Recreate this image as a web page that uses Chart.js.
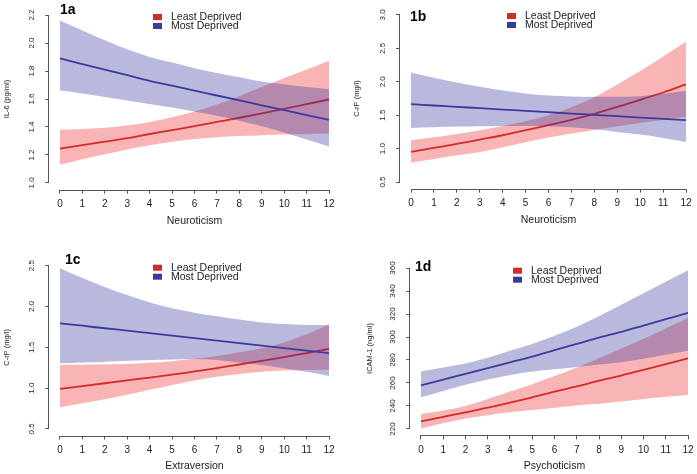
<!DOCTYPE html>
<html>
<head>
<meta charset="utf-8">
<script src="https://cdn.jsdelivr.net/npm/chart.js@4.4.1/dist/chart.umd.min.js"></script>
<style>
  html, body { margin: 0; padding: 0; background: #fff; overflow: hidden; }
  body { width: 697px; height: 474px; position: relative; }
  .panel { position: absolute; }
</style>
</head>
<body>
<div class="panel" style="left:0;top:0;width:349px;height:237px"><canvas id="p1a"></canvas></div>
<div class="panel" style="left:350px;top:0;width:347px;height:237px"><canvas id="p1b"></canvas></div>
<div class="panel" style="left:0;top:237px;width:349px;height:237px"><canvas id="p1c"></canvas></div>
<div class="panel" style="left:350px;top:237px;width:349px;height:237px"><canvas id="p1d"></canvas></div>
<script>
const xVals = [0, 1, 2, 3, 4, 5, 6, 7, 8, 9, 10, 11, 12];
const groupNames = ['Least Deprived', 'Most Deprived'];

// 1a  IL-6 by neuroticism
const il6Ticks = [1.0, 1.2, 1.4, 1.6, 1.8, 2.0, 2.2];
const il6LeastFit = [1.245, 1.27, 1.295, 1.32, 1.35, 1.378, 1.406, 1.436, 1.466, 1.498, 1.53, 1.563, 1.597];
const il6LeastLo  = [1.13, 1.17, 1.205, 1.24, 1.27, 1.295, 1.315, 1.327, 1.335, 1.341, 1.346, 1.35, 1.353];
const il6LeastHi  = [1.38, 1.385, 1.395, 1.41, 1.435, 1.47, 1.51, 1.56, 1.62, 1.685, 1.75, 1.81, 1.873];
const il6MostFit  = [1.89, 1.85, 1.81, 1.77, 1.73, 1.695, 1.66, 1.625, 1.59, 1.555, 1.52, 1.485, 1.45];
const il6MostLo   = [1.66, 1.64, 1.615, 1.59, 1.565, 1.54, 1.51, 1.48, 1.445, 1.405, 1.36, 1.31, 1.26];
const il6MostHi   = [2.16, 2.09, 2.02, 1.955, 1.9, 1.86, 1.82, 1.785, 1.755, 1.725, 1.705, 1.685, 1.67];

// 1b  CRP by neuroticism
const crpNTicks = [0.5, 1.0, 1.5, 2.0, 2.5, 3.0];
const crpNLeastFit = [0.95, 1.01, 1.07, 1.135, 1.2, 1.275, 1.35, 1.43, 1.52, 1.625, 1.73, 1.84, 1.96];
const crpNLeastLo  = [0.79, 0.845, 0.9, 0.95, 1.02, 1.095, 1.165, 1.225, 1.28, 1.335, 1.385, 1.43, 1.475];
const crpNLeastHi  = [1.125, 1.17, 1.22, 1.275, 1.34, 1.41, 1.5, 1.62, 1.77, 1.96, 2.16, 2.38, 2.6];
const crpNMostFit  = [1.665, 1.645, 1.625, 1.605, 1.585, 1.565, 1.545, 1.525, 1.505, 1.485, 1.465, 1.445, 1.425];
const crpNMostLo   = [1.31, 1.32, 1.33, 1.335, 1.34, 1.34, 1.335, 1.32, 1.29, 1.25, 1.21, 1.16, 1.1];
const crpNMostHi   = [2.14, 2.06, 1.99, 1.925, 1.87, 1.825, 1.795, 1.78, 1.775, 1.775, 1.785, 1.82, 1.865];

// 1c  CRP by extraversion
const crpETicks = [0.5, 1.0, 1.5, 2.0, 2.5];
const crpELeastFit = [0.99, 1.025, 1.06, 1.095, 1.13, 1.165, 1.205, 1.245, 1.29, 1.335, 1.38, 1.43, 1.48];
const crpELeastLo  = [0.765, 0.815, 0.865, 0.92, 0.98, 1.04, 1.095, 1.14, 1.175, 1.2, 1.215, 1.222, 1.225];
const crpELeastHi  = [1.285, 1.288, 1.29, 1.295, 1.31, 1.33, 1.36, 1.395, 1.44, 1.49, 1.56, 1.66, 1.78];
const crpEMostFit  = [1.795, 1.765, 1.734, 1.704, 1.673, 1.643, 1.612, 1.582, 1.551, 1.521, 1.49, 1.46, 1.43];
const crpEMostLo   = [1.305, 1.315, 1.325, 1.335, 1.345, 1.352, 1.358, 1.345, 1.315, 1.285, 1.245, 1.2, 1.15];
const crpEMostHi   = [2.47, 2.35, 2.24, 2.14, 2.05, 1.98, 1.925, 1.88, 1.84, 1.805, 1.785, 1.775, 1.775];

// 1d  ICAM-1 by psychoticism
const icamTicks = [220, 240, 260, 280, 300, 320, 340, 360];
const icamLeastFit = [226.5, 230.5, 234.5, 238.5, 243, 247.5, 252.5, 257, 262, 266.5, 271.5, 276.5, 281.5];
const icamLeastLo  = [220.5, 225, 229, 232, 234.5, 236.5, 238.5, 240.5, 242, 244, 246, 248, 249.6];
const icamLeastHi  = [233, 236, 240, 246, 252.5, 259, 266, 273.5, 281.5, 290, 298.5, 307.5, 316.5];
const icamMostFit  = [258, 263, 268, 273, 278, 283, 288.5, 294, 299.5, 304.5, 310, 315.5, 321];
const icamMostLo   = [247.5, 253, 258.5, 263, 267, 270, 272, 274, 276, 278, 281, 284.5, 288];
const icamMostHi   = [270, 273.5, 277, 282, 288, 294, 301, 309, 318, 328, 338, 348, 358];

const redLine = '#d42a2a';
const blueLine = '#3b3b9e';
const redBand = 'rgba(235,25,25,0.32)';
const blueBand = 'rgba(55,52,158,0.35)';
const inkColor = '#222';
const axisColor = '#555';
const FONT = 'Liberation Sans, Arial, Helvetica, sans-serif';

function pts(ys) {
  return xVals.map((x, i) => ({ x: x, y: ys[i] }));
}

function buildDatasets(lFit, lLo, lHi, mFit, mLo, mHi) {
  const band = { borderWidth: 0, borderColor: 'rgba(0,0,0,0)', pointRadius: 0, cubicInterpolationMode: 'monotone' };
  const line = { borderWidth: 1.8, pointRadius: 0, fill: false, cubicInterpolationMode: 'monotone' };
  return [
    Object.assign({ label: '', data: pts(lHi), fill: 1, backgroundColor: redBand, order: 6 }, band),
    Object.assign({ label: '', data: pts(lLo), fill: false, order: 5 }, band),
    Object.assign({ label: groupNames[0], data: pts(lFit), borderColor: redLine, order: 4 }, line),
    Object.assign({ label: '', data: pts(mHi), fill: 4, backgroundColor: blueBand, order: 3 }, band),
    Object.assign({ label: '', data: pts(mLo), fill: false, order: 2 }, band),
    Object.assign({ label: groupNames[1], data: pts(mFit), borderColor: blueLine, order: 1 }, line)
  ];
}

// R style axis lines: only from first to last tick
const rAxes = {
  id: 'rAxes',
  afterDraw(chart) {
    const { ctx, chartArea, scales } = chart;
    const xs = scales.x, ys = scales.y;
    ctx.save();
    ctx.strokeStyle = axisColor;
    ctx.lineWidth = 1;
    ctx.beginPath();
    const by = Math.round(chartArea.bottom) + 0.5;
    ctx.moveTo(xs.getPixelForValue(xs.ticks[0].value), by);
    ctx.lineTo(xs.getPixelForValue(xs.ticks[xs.ticks.length - 1].value), by);
    const lx = Math.round(chartArea.left) - 0.5;
    ctx.moveTo(lx, ys.getPixelForValue(ys.ticks[0].value));
    ctx.lineTo(lx, ys.getPixelForValue(ys.ticks[ys.ticks.length - 1].value));
    ctx.stroke();
    ctx.restore();
  }
};

// legend inside the plot and panel tag
const rLegend = {
  id: 'rLegend',
  afterDraw(chart, args, opts) {
    const ctx = chart.ctx;
    ctx.save();
    ctx.font = '10.5px ' + FONT;
    ctx.textBaseline = 'middle';
    ctx.fillStyle = inkColor;
    let row = 0;
    chart.data.datasets.forEach(ds => {
      if (!ds.label) return;
      const cy = opts.y + row * 9;
      ctx.fillStyle = ds.borderColor;
      ctx.fillRect(opts.x, cy - 3, 9, 6);
      ctx.fillStyle = inkColor;
      ctx.fillText(ds.label, opts.x + 18, cy + 0.5);
      row++;
    });
    ctx.font = 'bold 14px ' + FONT;
    ctx.textBaseline = 'alphabetic';
    ctx.fillStyle = '#000';
    ctx.fillText(opts.tag, opts.tagX, opts.tagY);
    ctx.restore();
  }
};

function makeChart(id, datasets, cfg) {
  const yTicks = cfg.yTicks;
  const yPad = (yTicks[yTicks.length - 1] - yTicks[0]) * 0.04;
  const xPad = (xVals[xVals.length - 1] - xVals[0]) * 0.04;
  return new Chart(document.getElementById(id), {
    type: 'line',
    data: { datasets: datasets },
    options: {
      responsive: true,
      maintainAspectRatio: false,
      animation: false,
      events: [],
      layout: { padding: { left: 0, right: cfg.padRight, top: cfg.padTop, bottom: 0 } },
      plugins: {
        legend: { display: false },
        tooltip: { enabled: false },
        rLegend: { x: cfg.legX, y: cfg.legY, tag: cfg.tag, tagX: cfg.tagX, tagY: cfg.tagY }
      },
      scales: {
        x: {
          type: 'linear',
          min: xVals[0] - xPad,
          max: xVals[xVals.length - 1] + xPad,
          afterBuildTicks: s => { s.ticks = xVals.map(v => ({ value: v })); },
          afterFit: s => { s.height = cfg.xHeight; s.paddingLeft = 0; s.paddingRight = 0; },
          border: { display: false },
          grid: { drawOnChartArea: false, tickLength: 4, color: axisColor },
          ticks: {
            autoSkip: false, maxRotation: 0, padding: 4.5, color: inkColor,
            font: { family: FONT, size: 10 },
            callback: v => String(v)
          },
          title: {
            display: true, text: cfg.xTitle, color: inkColor,
            font: { family: FONT, size: 10.5 },
            padding: { top: 0, bottom: cfg.xTitlePad }
          }
        },
        y: {
          type: 'linear',
          min: yTicks[0] - yPad,
          max: yTicks[yTicks.length - 1] + yPad,
          afterBuildTicks: s => { s.ticks = yTicks.map(v => ({ value: v })); },
          afterFit: s => { s.width = cfg.yWidth; s.paddingTop = 0; s.paddingBottom = 0; },
          border: { display: false },
          grid: { drawOnChartArea: false, tickLength: 4, color: axisColor },
          ticks: {
            autoSkip: false, minRotation: 90, maxRotation: 90, crossAlign: 'center',
            padding: cfg.yTickPad, color: inkColor,
            font: { family: FONT, size: 8 },
            callback: v => v.toFixed(cfg.yDec)
          },
          title: {
            display: true, text: cfg.yTitle, color: inkColor,
            font: { family: FONT, size: 7.5 },
            padding: { top: cfg.yTitlePad, bottom: 0 }
          }
        }
      }
    },
    plugins: [rAxes, rLegend]
  });
}

makeChart('p1a', buildDatasets(il6LeastFit, il6LeastLo, il6LeastHi, il6MostFit, il6MostLo, il6MostHi), {
  yTicks: il6Ticks, yDec: 1, yTitle: 'IL-6 (pg/ml)', xTitle: 'Neuroticism',
  yWidth: 49.2, padRight: 9.2, padTop: 8.3, xHeight: 47.3, xTitlePad: 9.7, yTitlePad: 2.5, yTickPad: 8,
  legX: 153, legY: 17, tag: '1a', tagX: 60, tagY: 13.5
});
makeChart('p1b', buildDatasets(crpNLeastFit, crpNLeastLo, crpNLeastHi, crpNMostFit, crpNMostLo, crpNMostHi), {
  yTicks: crpNTicks, yDec: 1, yTitle: 'C-rP (mg/l)', xTitle: 'Neuroticism',
  yWidth: 50, padRight: 0, padTop: 8.3, xHeight: 48.3, xTitlePad: 10.7, yTitlePad: 2.5, yTickPad: 8,
  legX: 157, legY: 16, tag: '1b', tagX: 60, tagY: 20.7
});
makeChart('p1c', buildDatasets(crpELeastFit, crpELeastLo, crpELeastHi, crpEMostFit, crpEMostLo, crpEMostHi), {
  yTicks: crpETicks, yDec: 1, yTitle: 'C-rP (mg/l)', xTitle: 'Extraversion',
  yWidth: 49.2, padRight: 9.2, padTop: 22.2, xHeight: 38.5, xTitlePad: 1.7, yTitlePad: 2.5, yTickPad: 8,
  legX: 153, legY: 30.7, tag: '1c', tagX: 65, tagY: 27.3
});
makeChart('p1d', buildDatasets(icamLeastFit, icamLeastLo, icamLeastHi, icamMostFit, icamMostLo, icamMostHi), {
  yTicks: icamTicks, yDec: 0, yTitle: 'ICAM-1 (ng/ml)', xTitle: 'Psychoticism',
  yWidth: 60.3, padRight: 0.3, padTop: 24.6, xHeight: 38.6, xTitlePad: 2, yTitlePad: 15.5, yTickPad: 6.6,
  legX: 163, legY: 33.7, tag: '1d', tagX: 65, tagY: 34
});
</script>
</body>
</html>
